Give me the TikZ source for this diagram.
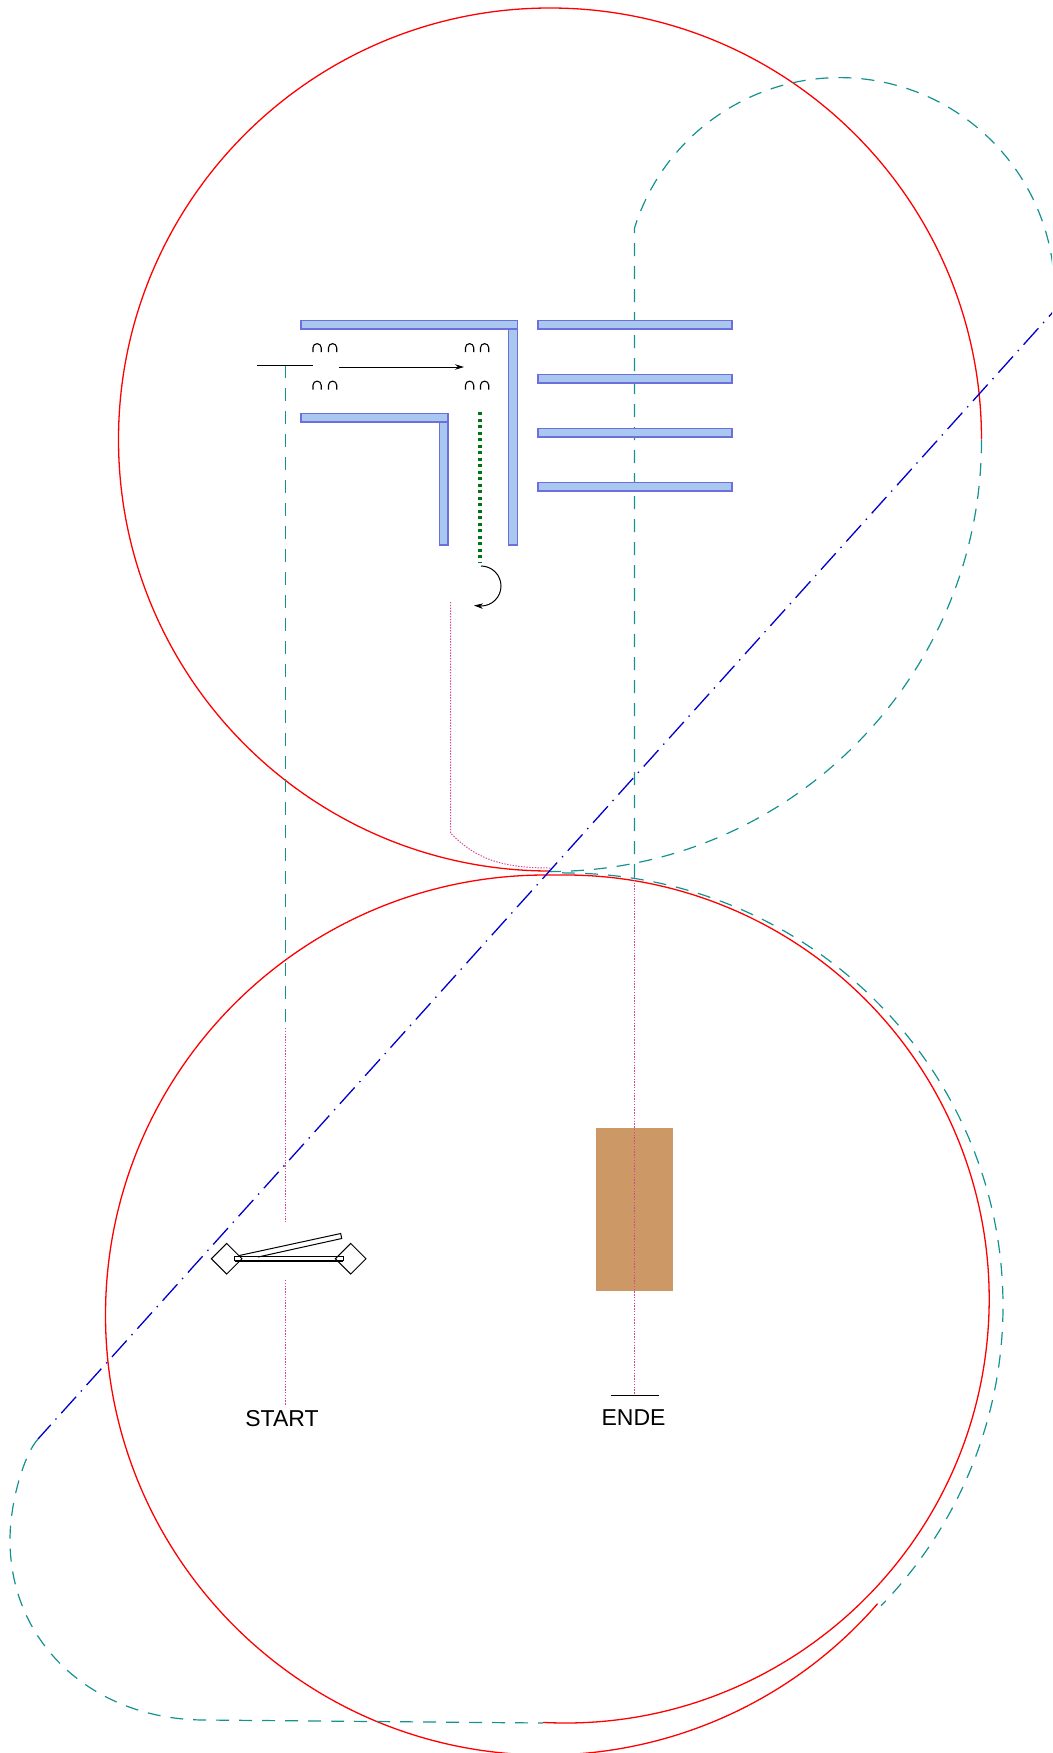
\documentclass[tikz,border=0pt]{standalone}
\usepackage{fontspec}
\setmainfont{Liberation Sans}
\usetikzlibrary{arrows.meta}
\definecolor{wallfill}{RGB}{168,200,240}
\definecolor{walledge}{RGB}{110,110,220}
\definecolor{routeteal}{RGB}{20,145,145}
\definecolor{routepink}{RGB}{214,70,150}
\definecolor{routeblue}{RGB}{0,0,205}
\definecolor{routegreen}{RGB}{0,115,20}
\definecolor{boxbrown}{RGB}{204,153,102}
\tikzset{
  wall/.style={draw=walledge,fill=wallfill,line width=1.1pt},
  redline/.style={draw=red,line width=1.3pt},
  tealdash/.style={draw=routeteal,line width=1.2pt,dash pattern=on 13pt off 10pt},
  pinkdot/.style={draw=routepink,line width=1pt,dash pattern=on 1.4pt off 1.4pt},
  bluedash/.style={draw=routeblue,line width=1.3pt,dash pattern=on 22pt off 7.2pt on 1.4pt off 7.24pt,dash phase=3pt},
  greendot/.style={draw=routegreen,line width=3.4pt,dash pattern=on 3.4pt off 3.1pt},
  blackline/.style={draw=black,line width=1pt},
  archmark/.style={draw=black,line width=1.1pt},
  arrowline/.style={blackline,-{Stealth[length=9pt,width=5.5pt]}},
  label/.style={font=\fontsize{23}{27}\selectfont,inner sep=0pt,anchor=base,text=black}
}
\begin{document}
\begin{tikzpicture}[x=1pt,y=1pt,yscale=-1]
\clip (0,0) rectangle (1052,1753);
\useasboundingbox (0,0) rectangle (1052,1753);
% brown box
\fill[boxbrown] (596,1128) rectangle (673,1291);
% red curves
\draw[redline] (550,871) arc [start angle=90,end angle=360,radius=431.5];
\draw[redline] (543,1722.4) arc [start angle=93,end angle=-90,radius=424] -- (545.5,875)
  arc [start angle=-90,end angle=-319,radius=440];
% teal routes
\draw[tealdash] (285.4,365) -- (285.4,1028);
\draw[tealdash] (634.5,877) -- (634.5,228) arc [start angle=197.5,end angle=360,radius=215];
\draw[tealdash] (981.5,440) arc [start angle=0,end angle=90,radius=431.5] -- (565,873)
  arc [start angle=-90,end angle=43.8,x radius=438,y radius=433];
\draw[tealdash] (38,1439) .. controls (25,1453) and (10,1500) .. (10,1540)
  .. controls (10,1645) and (95,1720) .. (205,1720) -- (543,1723);
% blue route
\draw[bluedash] (38,1439) -- (1062,302);
% pink routes
\draw[pinkdot] (285,1028) -- (285,1222);
\draw[pinkdot] (285,1280) -- (285,1405);
\draw[pinkdot] (634.5,877) -- (634.5,1395);
\draw[pinkdot] (450.5,602) -- (450.5,833) .. controls (475,858) and (500,868) .. (550,868);
% walls
\draw[wall] (508.5,329) rectangle (517.5,545);
\draw[wall] (301,320.5) rectangle (517.5,329);
\draw[wall] (439.5,422) rectangle (448,545);
\draw[wall] (301,413.5) rectangle (448,422);
\foreach \y in {320.5,374.5,428.5,482.5}
  \draw[wall] (538,\y) rectangle (732,\y+8.5);
% arch marks
\foreach \x in {313,328.5,465.5,480.5}
  \foreach \y in {352,389.5}
    \draw[archmark] (\x,\y) -- (\x,\y-4.3) arc [start angle=180,end angle=360,radius=4.1] -- (\x+8.2,\y);
% black lines
\draw[blackline] (257,365) -- (313,365);
\draw[arrowline] (339,367) -- (464,367);
\draw[greendot] (480,412) -- (480,563);
\draw[arrowline] (481,566) arc [start angle=-90,end angle=90,radius=20] -- (474,605.5);
\draw[blackline] (610.5,1395) -- (659,1395);
% gate
\draw[blackline] (226.7,1243.4) -- (242,1258.7) -- (226.7,1274) -- (211.4,1258.7) -- cycle;
\draw[blackline] (350.7,1243.4) -- (366,1258.7) -- (350.7,1274) -- (335.4,1258.7) -- cycle;
\draw[blackline] (234.7,1256) rectangle (343,1260.4);
\draw[blackline] (234.7,1261) -- (343,1261);
\draw[blackline] (239.3,1255.5) -- (340.7,1233.5) -- (341.7,1238.5) -- (258,1257);
% labels
\node[label] (start) at (282,1426) {START};
\node[label] (ende) at (633.5,1425) {ENDE};
\end{tikzpicture}
\end{document}
